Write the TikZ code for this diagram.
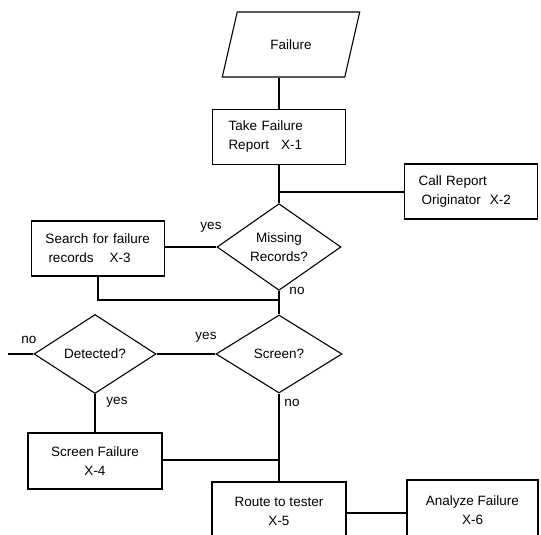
\documentclass[tikz,border=0pt]{standalone}
\usepackage{fontspec}
\setmainfont{Liberation Sans}
\usetikzlibrary{shapes.geometric}
\hyphenpenalty=10000
\begin{document}
\begin{tikzpicture}[x=1pt,y=-1pt,line width=1.1pt,
  every node/.style={font=\fontsize{13.5}{19}\selectfont},
  cbox/.style={draw,rectangle,inner sep=0pt,align=center,minimum width=134pt,minimum height=56pt},
  lbox/.style={draw,rectangle,inner xsep=13pt,inner ysep=0pt,text width=107pt,align=left,minimum height=55pt},
  decision/.style={draw,diamond,inner sep=0pt,align=center,minimum width=124pt,minimum height=78pt},
  io/.style={draw,trapezium,trapezium left angle=60,trapezium right angle=120,trapezium stretches=true,minimum width=138pt,minimum height=65pt,inner sep=0pt},
  lbl/.style={inner sep=0pt}]
\useasboundingbox (0,0) rectangle (541,535);
\clip (0,0) rectangle (541,535);
% nodes
\node[io] (fail) at (291,44.5) {Failure};
\node[lbox] (take) at (279,137) {\hspace*{3pt}Take Failure\\\hspace*{3pt}Report\hspace{12pt}X-1};
\node[lbox] (call) at (471,191.5) {\hspace*{1pt}Call Report\\\hspace*{4pt}Originator\hspace{9pt}X-2};
\node[decision] (miss) at (279,247) {Missing\\Records?};
\node[lbox] (search) at (98,248.5) {\hspace*{1pt}Search for failure\\\hspace*{4pt}records\hspace{16pt}X-3};
\node[decision,minimum width=126pt] (screen) at (279,354) {Screen?};
\node[decision,minimum width=122pt,minimum height=79pt] (det) at (95,354) {Detected?};
\node[cbox] (sf) at (95,461) {Screen Failure\\X-4};
\node[cbox,minimum height=58pt] (route) at (279,511) {Route to tester\\X-5};
\node[cbox,minimum width=131pt,minimum height=60pt] (an) at (472.5,510) {Analyze Failure\\X-6};
% labels
\node[lbl] (y1) at (211,227) {yes};
\node[lbl] (n1) at (297,291) {no};
\node[lbl] (n2) at (29,340) {no};
\node[lbl] (y2) at (206,337) {yes};
\node[lbl] (y3) at (117,402) {yes};
\node[lbl] (n3) at (292,403) {no};
% junctions
\coordinate (j1) at (279,192);
\coordinate (j2) at (279,300);
\coordinate (j3) at (279,460);
\coordinate (dend) at (8,354);
\coordinate (c56) at (377,513);
% connectors
\draw (fail.south -| take.north) -- (take.north);
\draw (take.south) -- (miss.north);
\draw (j1) -- (j1 -| call.west);
\draw (search.east |- miss.west) -- (miss.west);
\draw (search.south) -- (search.south |- j2) -- (j2);
\draw (miss.south) -- (screen.north);
\draw (screen.west) -- (det.east);
\draw (det.west) -- (dend);
\draw (det.south) -- (sf.north);
\draw (sf.east |- j3) -- (j3);
\draw (screen.south) -- (route.north);
\draw (c56 -| route.east) -- (c56 -| an.west);
\end{tikzpicture}
\end{document}
